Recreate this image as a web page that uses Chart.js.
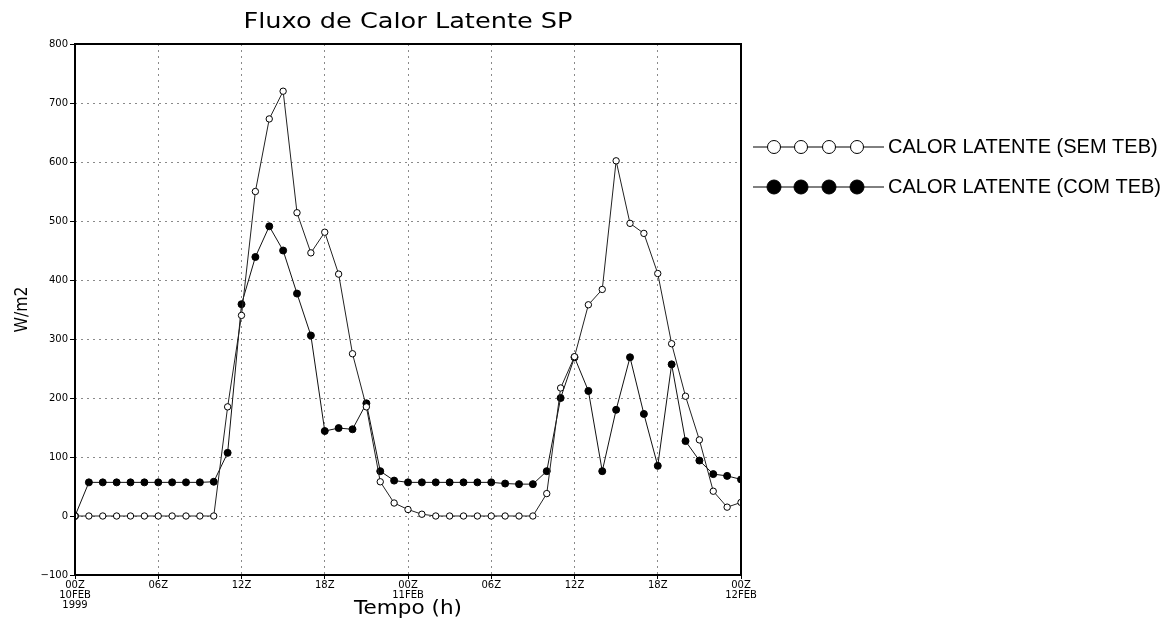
<!DOCTYPE html>
<html>
<head>
<meta charset="utf-8">
<script src="https://cdn.jsdelivr.net/npm/chart.js@4/dist/chart.umd.min.js"></script>
<style>
html,body{margin:0;padding:0;background:#fff;}
#wrap{position:relative;width:1174px;height:623px;}
</style>
</head>
<body>
<div id="wrap"><canvas id="c" width="1174" height="623"></canvas></div>
<script>
// ---- data ----
const hours = [0,1,2,3,4,5,6,7,8,9,10,11,12,13,14,15,16,17,18,19,20,21,22,23,24,25,26,27,28,29,30,31,32,33,34,35,36,37,38,39,40,41,42,43,44,45,46,47,48];
const semTeb = [0,0,0,0,0,0,0,0,0,0,0,185,340,550,673,720,514,446,481,410,275,185,58,22,11,3,0,0,0,0,0,0,0,0,38,217,270,358,384,602,496,479,411,292,203,129,42,15,23];
const comTeb = [0,57,57,57,57,57,57,57,57,57,58,107,359,439,491,450,377,306,144,149,147,191,76,60,57,57,57,57,57,57,57,55,54,54,76,200,269,212,76,180,269,173,85,257,127,94,71,68,62];
const xTickValues = [0,6,12,18,24,30,36,42,48];
const xTickLabels = [['00Z','10FEB','1999'],'06Z','12Z','18Z',['00Z','11FEB'],'06Z','12Z','18Z',['00Z','12FEB']];
const yTicks = [-100,0,100,200,300,400,500,600,700,800];
const seriesNames = ['CALOR LATENTE (SEM TEB)','CALOR LATENTE (COM TEB)'];
const titleText = 'Fluxo de Calor Latente SP';
const xTitle = 'Tempo (h)';
const yTitle = 'W/m2';

function fitText(ctx, text, cx, y, targetW){
  const w = ctx.measureText(text).width;
  const s = targetW / w;
  ctx.save();
  ctx.translate(cx, y);
  ctx.scale(s, 1);
  ctx.textAlign = 'center';
  ctx.fillText(text, 0, 0);
  ctx.restore();
}

const decor = {
  id: 'decor',
  afterDraw(chart){
    const ctx = chart.ctx;
    const a = chart.chartArea;
    ctx.save();
    // frame
    ctx.strokeStyle = '#000';
    ctx.lineWidth = 2;
    ctx.strokeRect(a.left, a.top, a.right - a.left, a.bottom - a.top);
    // title
    ctx.fillStyle = '#000';
    ctx.textBaseline = 'alphabetic';
    ctx.font = '22px "DejaVu Sans"';
    fitText(ctx, titleText, (a.left + a.right) / 2, 28, 329);
    // x title
    ctx.font = '19px "DejaVu Sans"';
    fitText(ctx, xTitle, (a.left + a.right) / 2, 614, 108);
    // y title
    ctx.save();
    ctx.translate(27, (a.top + a.bottom) / 2);
    ctx.rotate(-Math.PI / 2);
    ctx.font = '17px "DejaVu Sans"';
    fitText(ctx, yTitle, 0, 0, 46);
    ctx.restore();
    // legend
    const rows = [
      {y: 147, fill: '#fff', r: 6.5},
      {y: 187, fill: '#000', r: 7}
    ];
    const mx = [774, 801, 829, 857];
    rows.forEach((row, i) => {
      ctx.strokeStyle = '#000';
      ctx.lineWidth = 1;
      ctx.beginPath();
      ctx.moveTo(753, row.y);
      ctx.lineTo(884, row.y);
      ctx.stroke();
      mx.forEach(x => {
        ctx.beginPath();
        ctx.arc(x, row.y, row.r, 0, Math.PI * 2);
        ctx.fillStyle = row.fill;
        ctx.fill();
        ctx.stroke();
      });
      ctx.fillStyle = '#000';
      ctx.font = '20px "Liberation Sans"';
      ctx.textAlign = 'left';
      ctx.textBaseline = 'middle';
      ctx.fillText(seriesNames[i], 888, row.y);
    });
    ctx.restore();
  }
};

new Chart(document.getElementById('c'), {
  type: 'line',
  data: {
    datasets: [
      {
        label: seriesNames[0],
        data: hours.map((h, i) => ({x: h, y: semTeb[i]})),
        borderColor: '#222',
        borderWidth: 1,
        pointRadius: 3.2,
        pointBackgroundColor: '#fff',
        pointBorderColor: '#000',
        pointBorderWidth: 1,
        tension: 0
      },
      {
        label: seriesNames[1],
        data: hours.map((h, i) => ({x: h, y: comTeb[i]})),
        borderColor: '#111',
        borderWidth: 1,
        pointRadius: 3.5,
        pointBackgroundColor: '#000',
        pointBorderColor: '#000',
        pointBorderWidth: 1,
        tension: 0
      }
    ]
  },
  options: {
    responsive: false,
    animation: false,
    devicePixelRatio: 1,
    layout: {padding: {left: 0, top: 44, right: 433, bottom: 0}},
    plugins: {legend: {display: false}, title: {display: false}, tooltip: {enabled: false}},
    scales: {
      x: {
        type: 'linear',
        min: 0, max: 48,
        afterBuildTicks(scale){ scale.ticks = xTickValues.map(v => ({value: v})); },
        afterFit(scale){ scale.height = 48; },
        ticks: {
          autoSkip: false,
          maxRotation: 0,
          padding: 1,
          color: '#000',
          font: {family: '"DejaVu Sans"', size: 10, lineHeight: 1.0},
          callback(v){ const i = xTickValues.indexOf(v); return i >= 0 ? xTickLabels[i] : ''; }
        },
        grid: {color: '#8a8a8a', lineWidth: 1, drawTicks: true, tickLength: 4, tickColor: '#000', tickBorderDash: []},
        border: {display: false, dash: [2, 4]}
      },
      y: {
        min: -100, max: 800,
        afterBuildTicks(scale){ scale.ticks = yTicks.map(v => ({value: v})); },
        afterFit(scale){ scale.width = 75; },
        ticks: {
          padding: 2,
          color: '#000',
          font: {family: '"DejaVu Sans"', size: 10},
          callback(v){ return v < 0 ? '\u2212' + Math.abs(v) : String(v); }
        },
        grid: {color: '#8a8a8a', lineWidth: 1, drawTicks: true, tickLength: 5, tickColor: '#000', tickBorderDash: []},
        border: {display: false, dash: [2, 4]}
      }
    }
  },
  plugins: [decor]
});
</script>
</body>
</html>
